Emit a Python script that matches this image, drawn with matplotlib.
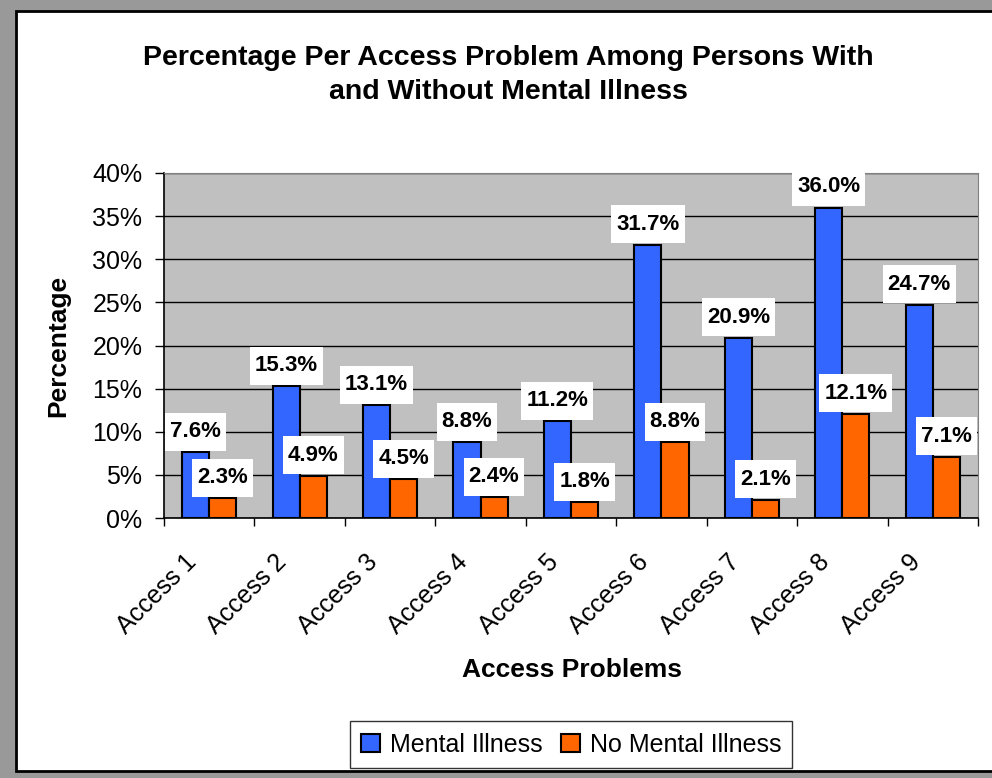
import matplotlib
matplotlib.use("Agg")
import matplotlib.pyplot as plt
from matplotlib.patches import Rectangle
from matplotlib.path import Path
from matplotlib.transforms import ScaledTranslation
from matplotlib.ticker import MultipleLocator, PercentFormatter
import numpy as np

categories = ["Access 1", "Access 2", "Access 3", "Access 4", "Access 5",
              "Access 6", "Access 7", "Access 8", "Access 9"]
mental_illness = [7.6, 15.3, 13.1, 8.8, 11.2, 31.7, 20.9, 36.0, 24.7]
no_mental_illness = [2.3, 4.9, 4.5, 2.4, 1.8, 8.8, 2.1, 12.1, 7.1]
series_names = ["Mental Illness", "No Mental Illness"]

plt.rcParams['font.family'] = ['Liberation Sans', 'DejaVu Sans']

W, H = 992, 778
fig = plt.figure(figsize=(W / 100, H / 100), dpi=100)
fig.patch.set_facecolor('#999999')
# white chart area with black border
fig.patches.append(Rectangle((16 / W, 1 - 771 / H), (W + 10 - 16) / W, (771 - 11) / H,
                             transform=fig.transFigure, facecolor='white',
                             edgecolor='black', linewidth=2, zorder=-10))

left, right, top, bottom = 164, 978, 173, 518
ax = fig.add_axes([left / W, 1 - bottom / H, (right - left) / W, (bottom - top) / H])
ax.set_zorder(1)
ax.set_facecolor('#C0C0C0')

x = np.arange(len(categories))
bw = 0.3
b1 = ax.bar(x - bw / 2, mental_illness, bw, color='#3366FF', edgecolor='black',
            linewidth=1.5, label=series_names[0], zorder=3)
b2 = ax.bar(x + bw / 2, no_mental_illness, bw, color='#FF6600', edgecolor='black',
            linewidth=1.5, label=series_names[1], zorder=3)


def label_box(x0, y0, width, height, mutation_size, px=5.0, py=8.5):
    x0, y0 = x0 - px, y0 - py
    x1, y1 = x0 + width + 2 * px, y0 + height + 2 * py
    return Path([(x0, y0), (x1, y0), (x1, y1), (x0, y1), (x0, y0)], closed=True)


for bars, vals in ((b1, mental_illness), (b2, no_mental_illness)):
    for rect, v in zip(bars, vals):
        ax.annotate(f"{v:.1f}%", (rect.get_x() + rect.get_width() / 2, v),
                    xytext=(0, 7.2), textcoords='offset points', ha='center', va='bottom',
                    fontsize=16, fontweight='bold', zorder=5,
                    bbox=dict(boxstyle=label_box, facecolor='white', edgecolor='none'))

ax.set_ylim(0, 40)
ax.set_xlim(-0.5, len(categories) - 0.5)
ax.yaxis.set_major_locator(MultipleLocator(5))
ax.yaxis.set_major_formatter(PercentFormatter(decimals=0))
ax.grid(axis='y', color='black', linewidth=1, zorder=1)
ax.set_axisbelow(True)

# category boundaries as tick marks, category names as rotated text
ax.set_xticks(np.arange(len(categories) + 1) - 0.5)
ax.set_xticklabels([])
ax.tick_params(axis='x', which='major', length=6, width=1, direction='out')
ax.tick_params(axis='y', length=6.5, width=1, direction='out', labelsize=18, pad=9)
lab_tr = ax.get_xaxis_transform() + ScaledTranslation(-25 / 100, -32 / 100, fig.dpi_scale_trans)
for xi, name in zip(x, categories):
    ax.text(xi, 0, name, transform=lab_tr, rotation=45, ha='right', va='top',
            rotation_mode='anchor', fontsize=18, clip_on=False)

for s in ('top', 'right'):
    ax.spines[s].set_color('#808080')
for s in ('left', 'bottom'):
    ax.spines[s].set_color('black')
    ax.spines[s].set_linewidth(1.2)

ax.set_ylabel("Percentage", fontsize=19, fontweight='bold')
ax.set_xlabel("Access Problems", fontsize=19, fontweight='bold')
ax.xaxis.set_label_coords((572 - left) / (right - left), (bottom - 658) / (bottom - top))
ax.yaxis.set_label_coords((70 - left) / (right - left), 0.5)

fig.text(508 / W, 1 - 75 / H, "Percentage Per Access Problem Among Persons With\nand Without Mental Illness",
         ha='center', va='center', fontsize=20.5, fontweight='bold', linespacing=1.4)

leg = fig.legend(handles=[b1, b2], labels=series_names, loc='center',
                 bbox_to_anchor=(571 / W, 1 - 744.5 / H), ncol=2, fontsize=18,
                 frameon=True, fancybox=False, edgecolor='black', handlelength=0.75,
                 handleheight=0.75, handletextpad=0.4, columnspacing=0.75, borderpad=0.45)
leg.get_frame().set_linewidth(1)

fig.savefig("out.png", dpi=100, facecolor=fig.get_facecolor())
